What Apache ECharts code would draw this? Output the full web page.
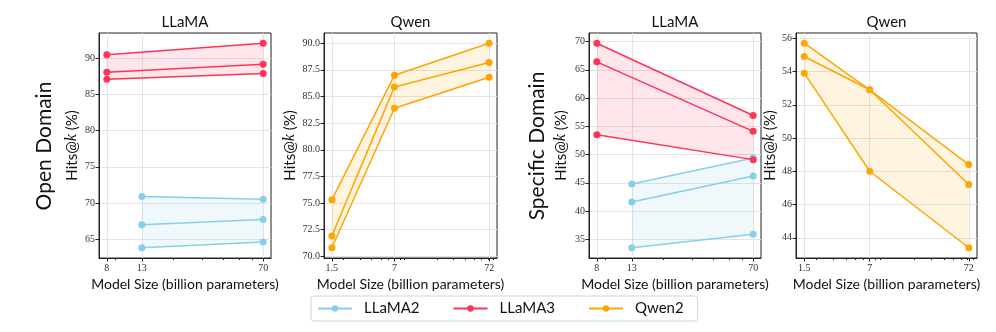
<!DOCTYPE html>
<html>
<head>
<meta charset="utf-8">
<script src="https://cdn.jsdelivr.net/npm/echarts@6/dist/echarts.min.js"></script>
<style>
html, body { margin: 0; padding: 0; background: #fff; }
#main { width: 996px; height: 332px; }
</style>
</head>
<body>
<div id="main"></div>
<script>
var myChart = echarts.init(document.getElementById('main'));

// model sizes (billion parameters)
var llama3Sizes = [8, 70];
var llama2Sizes = [13, 70];
var qwen2Sizes = [1.5, 7, 72];

// Hits@k (%) — three k values per model family
var openLLaMA3 = [[90.5, 92.1], [88.1, 89.2], [87.1, 87.9]];
var openLLaMA2 = [[70.9, 70.5], [67.0, 67.7], [63.8, 64.6]];
var openQwen2 = [[75.3, 87.0, 90.0], [71.9, 85.9, 88.2], [70.8, 83.9, 86.8]];
var specLLaMA3 = [[69.7, 56.9], [66.4, 54.1], [53.5, 49.1]];
var specLLaMA2 = [[44.8, 49.4], [41.6, 46.2], [33.5, 35.9]];
var specQwen2 = [[55.7, 52.9, 48.4], [54.9, 52.9, 47.2], [53.9, 48.0, 43.4]];

// y tick labels
var openLlamaTicks = [65, 70, 75, 80, 85, 90];
var openQwenTicks = [70, 72.5, 75, 77.5, 80, 82.5, 85, 87.5, 90];
var specLlamaTicks = [35, 40, 45, 50, 55, 60, 65, 70];
var specQwenTicks = [44, 46, 48, 50, 52, 54, 56];

var colors = { LLaMA2: '#87CEEB', LLaMA3: '#FF3355', Qwen2: '#FFA500' };
var fills = { LLaMA2: 'rgba(135,206,235,0.13)', LLaMA3: 'rgba(255,51,85,0.12)', Qwen2: 'rgba(255,165,0,0.12)' };

var SANS = 'Lato';
var SERIF = 'Liberation Serif';

var panels = [
    { left: 99, width: 172, title: 'LLaMA', ticks: openLlamaTicks, dec: 0, nameGap: 19,
      groups: [['LLaMA2', llama2Sizes, openLLaMA2], ['LLaMA3', llama3Sizes, openLLaMA3]] },
    { left: 324, width: 173, title: 'Qwen', ticks: openQwenTicks, dec: 1, nameGap: 26,
      groups: [['Qwen2', qwen2Sizes, openQwen2]] },
    { left: 589, width: 172, title: 'LLaMA', ticks: specLlamaTicks, dec: 0, nameGap: 20,
      groups: [['LLaMA2', llama2Sizes, specLLaMA2], ['LLaMA3', llama3Sizes, specLLaMA3]] },
    { left: 796, width: 181, title: 'Qwen', ticks: specQwenTicks, dec: 0, nameGap: 11,
      groups: [['Qwen2', qwen2Sizes, specQwen2]] }
];

var TOP = 33, HEIGHT = 225;
var grids = [], xAxes = [], yAxes = [], series = [], graphics = [];

// polygon between the lowest and highest line of a group
function bandRenderer(fill) {
    return function (params, api) {
        if (params.dataIndex !== 0) return;
        var n = params.dataInsideLength;
        var top = [], bottom = [];
        for (var j = 0; j < n; j++) {
            var x = api.value(0, j);
            top.push(api.coord([x, api.value(2, j)]));
            bottom.unshift(api.coord([x, api.value(1, j)]));
        }
        return {
            type: 'polygon',
            shape: { points: top.concat(bottom) },
            style: { fill: fill },
            silent: true
        };
    };
}

panels.forEach(function (p, i) {
    // collect x sizes and y values for matplotlib-like 5% margins
    var xs = [], ys = [];
    p.groups.forEach(function (g) {
        g[1].forEach(function (s) { if (xs.indexOf(s) < 0) xs.push(s); });
        g[2].forEach(function (row) { ys = ys.concat(row); });
    });
    xs.sort(function (a, b) { return a - b; });
    var lx0 = Math.log10(xs[0]), lx1 = Math.log10(xs[xs.length - 1]);
    var xmin = Math.pow(10, lx0 - 0.05 * (lx1 - lx0));
    var xmax = Math.pow(10, lx1 + 0.05 * (lx1 - lx0));
    var y0 = Math.min.apply(null, ys), y1 = Math.max.apply(null, ys);
    var ymin = y0 - 0.05 * (y1 - y0), ymax = y1 + 0.05 * (y1 - y0);

    // log minor ticks (2..9 x 10^k), skipping the major ones
    var minors = [];
    for (var e = -1; e <= 2; e++) {
        for (var m = 2; m <= 9; m++) {
            var v = m * Math.pow(10, e);
            if (v >= xmin && v <= xmax && xs.indexOf(v) < 0) minors.push(v);
        }
    }

    grids.push({
        left: p.left, top: TOP, width: p.width, height: HEIGHT,
        show: true, borderColor: '#222', borderWidth: 1
    });

    xAxes.push({
        gridIndex: i, type: 'log', logBase: 10, min: xmin, max: xmax,
        axisLine: { show: true, lineStyle: { color: '#222', width: 1 } },
        axisTick: { show: true, length: 3.5, customValues: xs, lineStyle: { color: '#222' } },
        axisLabel: {
            customValues: xs, fontFamily: SERIF, fontSize: 10, color: '#333', margin: 5,
            formatter: function (v) { return String(Math.round(v * 10) / 10); }
        },
        splitLine: { show: true, lineStyle: { color: '#e3e3e3', width: 1 } },
        name: 'Model Size (billion parameters)', nameLocation: 'middle', nameGap: 19,
        nameTextStyle: { fontFamily: SANS, fontSize: 14, color: '#111' }
    });
    // overlay axis only for minor ticks
    xAxes.push({
        gridIndex: i, type: 'log', logBase: 10, min: xmin, max: xmax, position: 'bottom',
        axisLine: { show: false },
        axisTick: { show: true, length: 2, customValues: minors, lineStyle: { color: '#222' } },
        axisLabel: { show: false },
        splitLine: { show: false }
    });

    yAxes.push({
        gridIndex: i, type: 'value', min: ymin, max: ymax,
        axisLine: { show: true, lineStyle: { color: '#222', width: 1 } },
        axisTick: { show: true, length: 3.5, customValues: p.ticks, lineStyle: { color: '#222' } },
        axisLabel: {
            customValues: p.ticks, fontFamily: SERIF, fontSize: 10, color: '#333', margin: 4,
            formatter: (function (dec) { return function (v) { return v.toFixed(dec); }; })(p.dec)
        },
        splitLine: { show: true, lineStyle: { color: '#e3e3e3', width: 1 } },
        name: '{a|Hits@}{k|k}{a| (%)}', nameLocation: 'middle', nameGap: p.nameGap, nameRotate: 90,
        nameTextStyle: {
            rich: {
                a: { fontFamily: SANS, fontSize: 15, color: '#111' },
                k: { fontFamily: SERIF, fontStyle: 'italic', fontSize: 16, color: '#111' }
            }
        }
    });

    p.groups.forEach(function (g) {
        var name = g[0], sizes = g[1], rows = g[2];
        var band = sizes.map(function (s, j) {
            var col = rows.map(function (r) { return r[j]; });
            return [s, Math.min.apply(null, col), Math.max.apply(null, col)];
        });
        series.push({
            name: '_band', type: 'custom', coordinateSystem: 'cartesian2d',
            xAxisIndex: 2 * i, yAxisIndex: i,
            data: band, encode: { x: 0, y: [1, 2] },
            renderItem: bandRenderer(fills[name]), silent: true, z: 1
        });
        rows.forEach(function (r) {
            series.push({
                name: name, type: 'line', xAxisIndex: 2 * i, yAxisIndex: i,
                data: sizes.map(function (s, j) { return [s, r[j]]; }),
                color: colors[name], symbol: 'circle', symbolSize: 7,
                lineStyle: { width: 1.5, color: colors[name] },
                itemStyle: { color: colors[name] }, z: 3
            });
        });
    });

    graphics.push({
        type: 'text', x: p.left + p.width / 2, y: 22,
        style: { text: p.title, font: '15px ' + SANS, fill: '#111', textAlign: 'center', textVerticalAlign: 'middle' }
    });
});

graphics.push({
    type: 'text', x: 44, y: 146, rotation: Math.PI / 2,
    style: { text: 'Open Domain', font: '21px ' + SANS, fill: '#111', textAlign: 'center', textVerticalAlign: 'middle' }
});
graphics.push({
    type: 'text', x: 537, y: 146, rotation: Math.PI / 2,
    style: { text: 'Specific Domain', font: '21px ' + SANS, fill: '#111', textAlign: 'center', textVerticalAlign: 'middle' }
});

option = {
    backgroundColor: '#fff',
    animation: false,
    grid: grids,
    xAxis: xAxes,
    yAxis: yAxes,
    legend: {
        data: ['LLaMA2', 'LLaMA3', 'Qwen2'],
        left: 311, top: 296,
        itemWidth: 34, itemHeight: 8, itemGap: 33,
        padding: [5, 14, 5, 6],
        borderColor: '#d4d4d4', borderWidth: 1, borderRadius: 3,
        textStyle: { fontFamily: SANS, fontSize: 15, color: '#111', padding: [0, 0, 0, 7] }
    },
    graphic: graphics,
    series: series
};

myChart.setOption(option);
</script>
</body>
</html>
